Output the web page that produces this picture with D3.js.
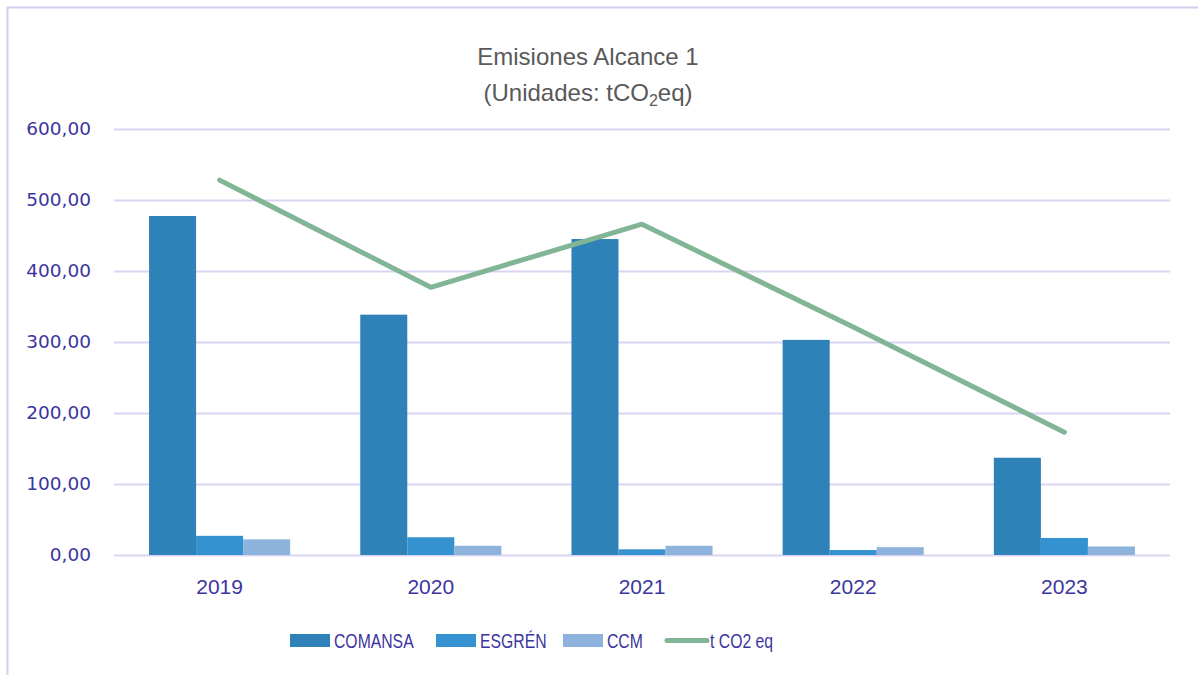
<!DOCTYPE html>
<html>
<head>
<meta charset="utf-8">
<script src="https://cdn.jsdelivr.net/npm/d3@7"></script>
<style>
  html, body { margin: 0; padding: 0; background: #fff; }
  svg { display: block; }
</style>
</head>
<body>
<svg id="chart" width="1198" height="675"></svg>
<script>
// values
const years = ['2019', '2020', '2021', '2022', '2023'];
const seriesNames = ['COMANSA', 'ESGRÉN', 'CCM'];
const comansa = [477.5, 338.5, 445, 303, 137];
const esgren = [27, 25, 8, 7, 24];
const ccm = [22, 13, 13, 11, 12];
const totalLabel = 't CO2 eq';
const total = [528, 377, 466, 321, 173];
const yTicks = [0, 100, 200, 300, 400, 500, 600];

const colors = ['#2E82B8', '#3592D0', '#8DB3DD'];
const lineColor = '#82B596';
const textColor = '#3C35A0';
const gridColor = '#D9D4F2';

const svg = d3.select('#chart');

// outer frame
svg.append('rect')
  .attr('x', 7.5)
  .attr('y', 7.5)
  .attr('width', 1200)
  .attr('height', 700)
  .attr('fill', 'none')
  .attr('stroke', '#D3CEF0')
  .attr('stroke-width', 2);

// title
const title = svg.append('text')
  .attr('text-anchor', 'middle')
  .attr('font-family', 'Liberation Sans, Arial, sans-serif')
  .attr('font-size', 24)
  .attr('fill', '#595959');
title.append('tspan').attr('x', 588).attr('y', 65).text('Emisiones Alcance 1');
const t2 = title.append('tspan').attr('x', 588).attr('y', 101);
t2.append('tspan').text('(Unidades: tCO');
t2.append('tspan').attr('font-size', 16).attr('dy', 5).text('2');
t2.append('tspan').attr('dy', -5).text('eq)');

const plotLeft = 114;
const plotRight = 1170;
const plotTop = 129;
const plotBottom = 555;

const x0 = d3.scaleBand()
  .domain(years)
  .range([plotLeft, plotRight])
  .paddingInner(0.332)
  .paddingOuter(0.166);

const x1 = d3.scaleBand()
  .domain(seriesNames)
  .range([0, x0.bandwidth()]);

const y = d3.scaleLinear()
  .domain([0, 600])
  .range([plotBottom, plotTop]);

// gridlines + y labels
const yAxis = d3.axisLeft(y)
  .tickValues(yTicks)
  .tickSize(-(plotRight - plotLeft))
  .tickPadding(23)
  .tickFormat(d => d3.format('.2f')(d).replace('.', ','));

const gy = svg.append('g')
  .attr('transform', `translate(${plotLeft},0)`)
  .call(yAxis);
gy.select('.domain').remove();
gy.selectAll('line')
  .attr('stroke', gridColor)
  .attr('stroke-width', 2);
gy.selectAll('text')
  .attr('font-family', 'DejaVu Sans, Verdana, sans-serif')
  .attr('font-size', 18.5)
  .attr('fill', textColor);

// bars
const barData = years.map((yr, i) => ({
  year: yr,
  values: [comansa[i], esgren[i], ccm[i]]
}));

svg.append('g')
  .selectAll('g')
  .data(barData)
  .join('g')
  .attr('transform', d => `translate(${x0(d.year)},0)`)
  .selectAll('rect')
  .data(d => d.values.map((v, j) => ({ name: seriesNames[j], value: v, color: colors[j] })))
  .join('rect')
  .attr('x', d => x1(d.name))
  .attr('y', d => y(d.value))
  .attr('width', x1.bandwidth())
  .attr('height', d => y(0) - y(d.value))
  .attr('fill', d => d.color);

// total line
const line = d3.line()
  .x((d, i) => x0(years[i]) + x0.bandwidth() / 2)
  .y(d => y(d));

svg.append('path')
  .datum(total)
  .attr('d', line)
  .attr('fill', 'none')
  .attr('stroke', lineColor)
  .attr('stroke-width', 5)
  .attr('stroke-linecap', 'round')
  .attr('stroke-linejoin', 'round');

// x labels
const xAxis = d3.axisBottom(x0).tickSize(0).tickPadding(0);
const gx = svg.append('g')
  .attr('transform', `translate(0,${plotBottom})`)
  .call(xAxis);
gx.select('.domain').remove();
gx.selectAll('text')
  .attr('dy', null)
  .attr('y', 39)
  .attr('font-family', 'Liberation Sans, Arial, sans-serif')
  .attr('font-size', 21)
  .attr('fill', textColor);

// legend
const legendItems = [
  { name: seriesNames[0], color: colors[0], type: 'rect', x: 290 },
  { name: seriesNames[1], color: colors[1], type: 'rect', x: 436 },
  { name: seriesNames[2], color: colors[2], type: 'rect', x: 563 },
  { name: totalLabel, color: lineColor, type: 'line', x: 665 }
];

const legend = svg.append('g');
legendItems.forEach((d) => {
  const g = legend.append('g').attr('transform', `translate(${d.x},0)`);
  if (d.type === 'rect') {
    g.append('rect')
      .attr('x', 0)
      .attr('y', 634)
      .attr('width', 40)
      .attr('height', 13)
      .attr('fill', d.color);
  } else {
    g.append('line')
      .attr('x1', 2)
      .attr('x2', 42)
      .attr('y1', 640.5)
      .attr('y2', 640.5)
      .attr('stroke', d.color)
      .attr('stroke-width', 5)
      .attr('stroke-linecap', 'round');
  }
  const txt = g.append('text')
    .attr('x', d.type === 'rect' ? 44 : 45)
    .attr('y', 648)
    .attr('font-family', 'Liberation Sans, Arial, sans-serif')
    .attr('font-size', 21)
    .attr('fill', textColor)
    .text(d.name);
  // the legend font is condensed: squeeze the glyphs horizontally
  const w = txt.node().getComputedTextLength();
  txt.attr('textLength', w * 0.75).attr('lengthAdjust', 'spacingAndGlyphs');
});
</script>
</body>
</html>
